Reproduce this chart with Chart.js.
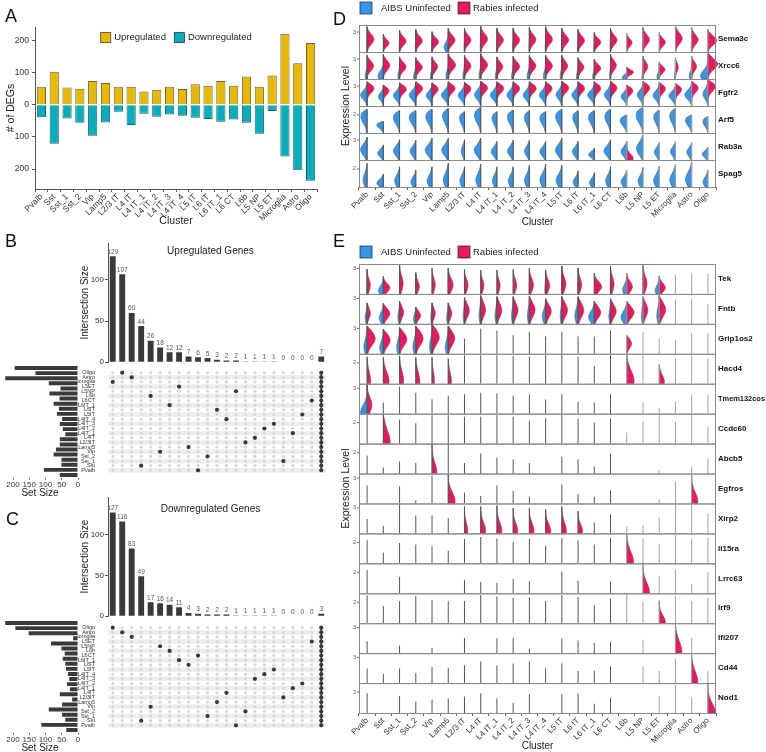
<!DOCTYPE html>
<html lang="en">
<head>
<meta charset="UTF-8">
<title>DEG summary</title>
<script src="https://cdn.jsdelivr.net/npm/chart.js"></script>
<style>
  body { margin: 0; background: #fff; }
  #fig { position: relative; width: 766px; height: 752px; overflow: hidden; background: #fff;
         font-family: "Liberation Sans", Arial, sans-serif; }
  #fig canvas { position: absolute; }
  .panel { position: absolute; font-size: 18px; line-height: 18px; color: #111; }
</style>
</head>
<body>
<div id="fig">
  <canvas id="chartA" width="330" height="232" style="left:0;top:0"></canvas>
  <canvas id="setUp" width="80" height="137" style="left:0;top:362px"></canvas>
  <canvas id="interUp" width="253" height="132" style="left:77px;top:236px"></canvas>
  <canvas id="matrixUp" width="253" height="119" style="left:77px;top:362px"></canvas>
  <canvas id="setDown" width="80" height="137" style="left:0;top:617px"></canvas>
  <canvas id="interDown" width="253" height="132" style="left:77px;top:490px"></canvas>
  <canvas id="matrixDown" width="253" height="119" style="left:77px;top:617px"></canvas>
  <canvas id="chartD" width="436" height="232" style="left:330px;top:0"></canvas>
  <canvas id="chartE" width="436" height="524" style="left:330px;top:228px"></canvas>
  <div class="panel" style="left:5px;top:7px">A</div>
  <div class="panel" style="left:5px;top:232px">B</div>
  <div class="panel" style="left:6px;top:510px">C</div>
  <div class="panel" style="left:333px;top:10px">D</div>
  <div class="panel" style="left:333px;top:232px">E</div>
</div>
<script>
// ---- data ----
var clusters = ['Pvalb','Sst','Sst_1','Sst_2','Vip','Lamp5','L2/3 IT','L4 IT','L4 IT_1','L4 IT_2','L4 IT_3','L4 IT_4',
                'L5 IT','L6 IT','L6 IT_1','L6 CT','L6b','L5 NP','L5 ET','Microglia','Astro','Oligo'];
var upsetRows = ['Pvalb','Sst','Sst_1','Sst_2','Vip','Lamp5','L2/3IT','L4IT','L4IT_1','L4IT_2','L4IT_3','L4IT_4',
                 'L5IT','L6IT','L6IT_1','L6CT','L6b','L5NP','L5ET','Microglia','Astro','Oligo'];

var upCounts   = [56,103,54,50,74,68,56,56,41,47,56,49,64,59,74,59,88,56,91,221,129,192];
var downCounts = [39,121,43,56,96,55,22,63,28,37,30,34,40,44,53,46,56,90,19,161,204,236];
var degTicks   = [-200,-100,0,100,200];

var upSetSize   = [56,105,51,51,75,68,56,56,39,47,56,49,65,59,75,57,88,54,90,224,131,195];
var downSetSize = [36,113,39,49,90,49,18,56,25,34,27,31,37,39,47,41,51,83,15,152,193,224];
var setSizeTicks = [0,50,100,150,200];

// intersection sizes (last column = all sets) and the single cluster of each other column
var upInter    = [129,107,60,44,26,18,12,12,7,6,5,3,2,2,1,1,1,1,0,0,0,0,7];
var upInterSet = [19,21,20,1,16,4,14,18,5,0,3,13,11,17,6,7,9,10,2,8,12,15];
var downInter    = [127,116,83,49,17,16,14,11,4,3,2,2,2,1,1,1,1,1,0,0,0,0,3];
var downInterSet = [21,20,19,1,4,17,16,14,13,15,2,5,7,0,3,10,11,12,6,8,9,18];

// violin panel D: max expression (fraction of row), half widths, density modes
var dGenes = ['Sema3c','Xrcc6','Fgfr2','Arf5','Rab3a','Spag5'];
var dTicks = ['3','3','3','2','3','2'];
var dHi = [
  [0.94,0.66,0.8,0.83,0.75,0.88,0.88,0.96,0.88,0.88,0.92,0.94,0.88,0.84,0.72,0.88,0.69,0.91,0.72,1.0,0.91,0.85],
  [0.88,0.91,0.82,0.79,0.82,0.94,0.88,0.94,0.82,0.84,0.88,0.88,0.88,0.79,0.72,0.91,0.45,0.84,0.63,0.79,0.84,1.0],
  [0.9,0.78,0.86,0.9,0.86,0.9,0.88,0.92,0.9,0.9,0.9,0.9,0.92,0.9,0.9,0.92,0.78,0.92,0.88,0.84,0.92,0.99],
  [0.88,0.43,0.83,0.83,0.88,0.91,0.79,0.95,0.79,0.85,0.83,0.79,0.88,0.83,0.83,0.88,0.67,0.95,0.85,0.91,0.67,0.61],
  [0.85,0.56,0.75,0.73,0.81,0.81,0.75,0.81,0.69,0.73,0.73,0.69,0.81,0.69,0.44,0.75,0.69,0.94,0.65,0.69,0.65,0.48],
  [0.88,0.48,0.75,0.63,0.75,0.88,0.75,0.85,0.75,0.75,0.81,0.85,0.81,0.6,0.53,0.75,0.63,0.73,0.78,0.85,0.94,0.63]
];
var dRed = [
  [0.42,0.35,0.4,0.4,0.4,0.42,0.4,0.42,0.4,0.4,0.4,0.42,0.42,0.4,0.4,0.4,0.33,0.4,0.38,0.42,0.4,0.55],
  [0.4,0.4,0.4,0.4,0.35,0.45,0.4,0.42,0.36,0.4,0.4,0.42,0.36,0.36,0.4,0.36,0.42,0.3,0.36,0.18,0.3,0.6],
  [0.42,0.35,0.42,0.42,0.38,0.42,0.4,0.42,0.42,0.4,0.42,0.4,0.42,0.4,0.4,0.4,0.38,0.42,0.38,0.38,0.4,0.45],
  [0,0,0,0,0,0,0,0,0,0,0,0,0,0,0,0,0,0,0,0,0,0],
  [0,0,0,0,0,0,0,0,0,0,0,0,0,0,0,0,0.4,0,0,0,0,0],
  [0,0,0,0,0,0,0,0,0,0,0,0,0,0,0,0,0,0,0,0,0,0]
];
var dBlue = [
  [0.03,0,0.03,0.03,0.03,0.25,0.03,0.03,0.03,0.03,0.03,0.03,0.03,0.03,0.03,0.03,0,0.03,0,0,0.03,0],
  [0.12,0.33,0.1,0.14,0.1,0.14,0.1,0.1,0.1,0.1,0.14,0.14,0.1,0.1,0.1,0.06,0.28,0.06,0.14,0.06,0.14,0.45],
  [0.4,0.3,0.38,0.4,0.35,0.42,0.38,0.38,0.4,0.38,0.38,0.38,0.35,0.38,0.4,0.38,0.35,0.35,0.38,0.4,0.42,0.3],
  [0.38,0.4,0.38,0.4,0.38,0.35,0.3,0.38,0.3,0.35,0.3,0.35,0.38,0.33,0.35,0.35,0.4,0.42,0.33,0.35,0.38,0.3],
  [0.4,0.35,0.38,0.35,0.42,0.4,0.2,0.4,0.35,0.35,0.3,0.35,0.4,0.35,0.35,0.4,0.35,0.4,0.3,0.3,0.3,0.35],
  [0.25,0.4,0.3,0.3,0.3,0.3,0.28,0.3,0.28,0.3,0.3,0.35,0.35,0.3,0.3,0.3,0.35,0.3,0.35,0.35,0.38,0.3]
];
var dRedPeak  = [0.5,0.55,0.72,0.5,0.08,0.5];
var dBluePeak = [0.2,0.12,0.45,0.68,0.45,0.3];
var dSpread   = [0.2,0.2,0.18,0.28,0.24,0.28];

// violin panel E
var eGenes = ['Tek','Fntb','Grip1os2','Hacd4','Tmem132cos','Ccdc60','Abcb5','Egfros','Xirp2','Il15ra','Lrrc63','Irf9','Ifi207','Cd44','Nod1'];
var eTicks = ['3','3','3','2','3','2','2','3','3','2','2','2','3','3','2'];
var eHi = [
  [0.82,0.58,1.0,0.71,0.86,0.86,0.82,0.8,0.8,0.82,0.86,0.8,0.93,0.86,0.69,0.93,0.69,0.97,0.6,0.65,0.67,0.67],
  [0.7,0.68,0.76,0.56,0.7,0.7,0.88,0.95,0.91,0.91,0.93,0.84,0.91,0.91,0.76,0.84,0.76,0.91,0.95,0.82,0.84,0.65],
  [0.93,0.82,0.88,0.93,1.0,0.93,0.51,0.84,0.77,0.62,0.73,0.58,0.73,0.58,0.58,0.77,0.62,0.73,0.51,0.47,0.69,0.69],
  [0.9,0.88,0.93,0.88,0.88,0.84,0.95,0.95,0.95,0.93,0.9,0.95,0.98,0.9,0.59,0.95,0.98,0.95,0.64,0.84,0.93,0.84],
  [0.98,0.37,0.9,0.7,0.48,0.6,0.65,0.7,0.68,0.6,0.65,0.48,0.65,0.4,0.37,0.65,0,0.35,0.18,0.4,0.63,0.63],
  [0.95,0.98,0.8,0.68,0.95,0.95,0.9,0.9,0.95,0.9,0.77,0.85,0.97,0.83,0.7,0.83,0.37,0.75,0.95,0.72,0.95,0.55],
  [0.6,0.2,0.4,0.35,1.0,1.0,0.35,0.67,0.53,0.47,0.35,0,0.56,0.47,0.23,0.67,0,0,0.12,0,0.23,0.5],
  [0.6,0,0.57,0.11,0.93,0.98,0.36,0.25,0.6,0.43,0.23,0,0.63,0.32,0.23,0.43,0,0,0.14,0.74,0.95,0],
  [0.48,0.25,0.97,0.6,0.6,0.52,0.9,0.9,0.93,0.85,0.85,0.8,0.9,0.74,0.36,0.63,0.23,0.28,0.53,1.0,1.0,0.66],
  [0.77,0.36,0.68,0.63,0.57,0.42,0.82,0.88,0.83,0.72,0.83,0.59,0.85,0.77,0.63,0.85,0.97,0.83,0.65,0.93,0.83,0.85],
  [0.77,0,0.55,0,0,0,0.45,0.38,0.34,0.48,0.4,0,0.72,0.42,0,0.4,0,1.0,0.59,0.8,0.31,0.7],
  [0.93,0.57,0.74,0.91,0.77,0.74,0.74,0.94,0.89,0.85,0.87,0.74,0.94,0.87,0.6,0.83,1.0,0.72,0.75,0.91,0.74,0.85],
  [0.4,0,0.25,0,0.17,0,0.51,0,0.49,0.51,0.15,0,0.49,0.42,0.34,0.38,0,0.45,0,1.0,0.51,0],
  [0.49,0.31,0.49,0.34,0.53,0.51,0.6,0.72,0.59,0.65,0.72,0.51,0.66,0.4,0.42,0.55,0,0.55,0.4,0.83,0.95,0.4],
  [0.66,0,0.57,0.38,0.45,0.49,0.55,0.66,0.49,0.34,0.63,0,0.63,0.65,0.31,0.51,0,0,0.57,0.93,0.51,1.0]
];
var eRed = [
  [0.2,0.4,0.22,0.22,0.2,0.3,0.22,0.2,0.2,0.22,0.25,0.25,0.25,0.22,0.45,0.22,0.35,0.25,0.38,0,0,0],
  [0.2,0.4,0.25,0.3,0.2,0.22,0.3,0.3,0.3,0.3,0.35,0.35,0.35,0.35,0.4,0.35,0.45,0.3,0.4,0,0,0],
  [0.5,0.42,0.45,0.45,0.45,0.4,0,0,0,0,0,0,0,0,0,0,0.3,0,0,0,0,0],
  [0.22,0.35,0.25,0.25,0.15,0.2,0,0,0,0,0,0,0,0,0,0,0.45,0,0.32,0,0,0],
  [0.3,0,0,0,0,0,0,0,0,0,0,0,0,0,0,0,0,0,0,0,0,0],
  [0,0.42,0,0,0,0,0,0,0,0,0,0,0,0,0,0,0,0,0,0,0,0],
  [0,0,0,0,0.3,0,0,0,0,0,0,0,0,0,0,0,0,0,0,0,0,0],
  [0,0,0,0,0,0.42,0,0,0,0,0,0,0,0,0,0,0,0,0,0,0.38,0],
  [0,0,0,0,0,0,0.2,0.3,0.3,0.28,0.28,0.32,0.28,0.28,0,0,0,0,0,0,0,0],
  [0,0,0,0,0,0,0,0,0,0,0,0,0,0,0,0,0.42,0,0,0,0,0],
  [0,0,0,0,0,0,0,0,0,0,0,0,0,0,0,0,0,0.4,0,0,0,0],
  [0,0,0,0,0,0,0,0,0,0,0,0,0,0,0,0,0,0,0.38,0,0,0],
  [0,0,0,0,0,0,0,0,0,0,0,0,0,0,0,0,0,0,0,0.4,0,0],
  [0,0,0,0,0,0,0,0,0,0,0,0,0,0,0,0,0,0,0,0,0.38,0],
  [0,0,0,0,0,0,0,0,0,0,0,0,0,0,0,0,0,0,0,0,0,0.45]
];
var eBlue = [
  [0.02,0.3,0,0.02,0,0.02,0,0,0,0,0.02,0.05,0.02,0.02,0,0.02,0.25,0.02,0.25,0,0,0],
  [0.12,0.25,0.1,0.15,0.08,0.1,0.08,0.1,0.12,0.1,0.12,0.2,0.1,0.2,0.35,0.1,0.35,0.1,0.15,0,0,0],
  [0.2,0.22,0.18,0.18,0.15,0.18,0,0,0,0,0,0,0,0,0,0,0,0,0,0,0,0],
  [0,0,0,0,0,0,0,0,0,0,0,0,0,0,0,0,0,0,0,0,0,0],
  [0.4,0,0,0,0,0,0,0,0,0,0,0,0,0,0,0,0,0,0,0,0,0],
  [0,0,0,0,0,0,0,0,0,0,0,0,0,0,0,0,0,0,0,0,0,0],
  [0,0,0,0,0,0,0,0,0,0,0,0,0,0,0,0,0,0,0,0,0,0],
  [0,0,0,0,0,0,0,0,0,0,0,0,0,0,0,0,0,0,0,0,0,0],
  [0,0,0,0,0,0,0,0,0,0,0,0,0,0,0,0,0,0,0,0,0,0],
  [0,0,0,0,0,0,0,0,0,0,0,0,0,0,0,0,0,0,0,0,0,0],
  [0,0,0,0,0,0,0,0,0,0,0,0,0,0,0,0,0,0,0,0,0,0],
  [0,0,0,0,0,0,0,0,0,0,0,0,0,0,0,0,0,0,0,0,0,0],
  [0,0,0,0,0,0,0,0,0,0,0,0,0,0,0,0,0,0,0,0,0,0],
  [0,0,0,0,0,0,0,0,0,0,0,0,0,0,0,0,0,0,0,0,0,0],
  [0,0,0,0,0,0,0,0,0,0,0,0,0,0,0,0,0,0,0,0,0,0]
];
var eRedPeak  = [0.35,0.5,0.55,0.1,0.3,0.05,0.05,0.08,0.1,0.05,0.05,0.05,0.05,0.05,0.02];
var eBluePeak = [0.2,0.3,0.25,0.1,0.05,0,0,0,0,0,0,0,0,0,0];
var eSpread   = [0.25,0.25,0.25,0.35,0.25,0.4,0.3,0.3,0.3,0.35,0.3,0.3,0.35,0.35,0.3];

// ---- shared setup ----
Chart.defaults.font.family = '"Liberation Sans", Arial, sans-serif';
Chart.defaults.color = '#333';
Chart.defaults.animation = false;

var FONT = '"Liberation Sans", Arial, sans-serif';
var BLUE = '#3196EE', RED = '#F0155F', DARK = '#3a3a3a';

function fixWidth(w) { return function (s) { s.width = w; }; }
function fixHeight(h) { return function (s) { s.height = h; }; }
function fixTicks(values) { return function (s) { s.ticks = values.map(v => ({ value: v })); }; }

// legend drawn inside the top of the plot area
var insideLegend = {
    id: 'insideLegend',
    afterDraw(chart) {
        var ctx = chart.ctx, a = chart.chartArea, sets = chart.data.datasets;
        ctx.save();
        ctx.font = '9.5px ' + FONT;
        var widths = sets.map(d => 10 + 4 + ctx.measureText(d.label).width);
        var total = widths.reduce((s, w) => s + w, 0) + 8 * (sets.length - 1);
        var x = (a.left + a.right) / 2 - total / 2, y = a.top + 10;
        sets.forEach(function (d, i) {
            ctx.fillStyle = d.backgroundColor;
            ctx.fillRect(x, y - 5, 10, 10);
            ctx.strokeStyle = d.borderColor;
            ctx.lineWidth = 1;
            ctx.strokeRect(x + 0.5, y - 4.5, 10, 10);
            ctx.fillStyle = '#222';
            ctx.textBaseline = 'middle';
            ctx.fillText(d.label, x + 14, y + 0.5);
            x += widths[i] + 8;
        });
        ctx.restore();
    }
};

// ---- A: up / down DEG counts ----
new Chart(document.getElementById('chartA'), {
    type: 'bar',
    data: {
        labels: clusters,
        datasets: [
            { label: 'Upregulated', data: upCounts, backgroundColor: '#E7B800', borderColor: '#6e6640', borderWidth: 1 },
            { label: 'Downregulated', data: downCounts.map(v => -v), backgroundColor: '#00AFBB', borderColor: '#2d5e62', borderWidth: 1 }
        ]
    },
    options: {
        responsive: false,
        layout: { padding: { left: 0, right: 13, top: 27, bottom: 0 } },
        datasets: { bar: { barPercentage: 0.72, categoryPercentage: 1 } },
        scales: {
            x: {
                stacked: true,
                grid: { drawOnChartArea: false, tickLength: 3, color: '#555' },
                border: { color: '#555' },
                ticks: { maxRotation: 45, minRotation: 45, autoSkip: false, font: { size: 8.5 }, padding: 0 },
                title: { display: true, text: 'Cluster', font: { size: 10.5 }, color: '#222', padding: { top: 0, bottom: 5 } },
                afterFit: fixHeight(43)
            },
            y: {
                stacked: true, min: -262, max: 242,
                afterBuildTicks: fixTicks(degTicks),
                ticks: { callback: v => Math.abs(v), font: { size: 8.5 } },
                grid: { drawOnChartArea: false, tickLength: 3, color: '#555' },
                border: { color: '#555' },
                title: { display: true, text: '# of DEGs', font: { size: 10.5 }, color: '#222', padding: { top: 5, bottom: 0 } },
                afterFit: fixWidth(35)
            }
        },
        plugins: { legend: { display: false }, tooltip: { enabled: false } }
    },
    plugins: [insideLegend]
});

// ---- B / C: UpSet plots ----
var barLabels = {
    id: 'barLabels',
    afterDatasetsDraw(chart, args, opts) {
        var ctx = chart.ctx, meta = chart.getDatasetMeta(0), a = chart.chartArea;
        ctx.save();
        ctx.font = '6.5px ' + FONT;
        ctx.fillStyle = '#555';
        ctx.textAlign = 'center';
        ctx.textBaseline = 'bottom';
        meta.data.forEach(function (bar, i) {
            ctx.fillText(chart.data.datasets[0].data[i], bar.x, bar.y - 1);
        });
        ctx.font = '10px ' + FONT;
        ctx.fillStyle = '#222';
        ctx.textBaseline = 'middle';
        ctx.fillText(opts.title, a.left + (a.right - a.left) * 0.47, a.top + opts.titleY);
        ctx.restore();
    }
};

function interChart(id, counts, ymax, title, titleY) {
    new Chart(document.getElementById(id), {
        type: 'bar',
        data: { labels: counts.map((c, i) => i), datasets: [{ data: counts, backgroundColor: DARK, barPercentage: 0.62, categoryPercentage: 1 }] },
        options: {
            responsive: false,
            layout: { padding: { left: 0, right: 4, top: 7, bottom: 4 } },
            scales: {
                x: { display: false },
                y: {
                    min: 0, max: ymax,
                    afterBuildTicks: fixTicks([0, 50, 100]),
                    ticks: { font: { size: 8 }, padding: 1 },
                    grid: { drawOnChartArea: false, tickLength: 3, color: '#555' },
                    border: { color: '#555' },
                    title: { display: true, text: 'Intersection Size', font: { size: 10 }, color: '#222', padding: { top: 2, bottom: 0 } },
                    afterFit: fixWidth(31)
                }
            },
            plugins: { legend: { display: false }, tooltip: { enabled: false }, barLabels: { title: title, titleY: titleY } }
        },
        plugins: [barLabels]
    });
}

var stripes = {
    id: 'stripes',
    beforeDatasetsDraw(chart) {
        var ctx = chart.ctx, a = chart.chartArea, ys = chart.scales.y;
        ctx.save();
        ctx.fillStyle = '#eeeeee';
        for (var r = 0; r < clusters.length; r++) {
            if ((clusters.length - 1 - r) % 2 === 1) {
                var y0 = ys.getPixelForValue(r + 0.5), y1 = ys.getPixelForValue(r - 0.5);
                ctx.fillRect(a.left, y0, a.right - a.left, y1 - y0);
            }
        }
        ctx.restore();
    }
};

function matrixChart(id, interSet, nCols) {
    var bg = [], act = [], all = [];
    for (var c = 0; c < nCols; c++)
        for (var r = 0; r < clusters.length; r++) bg.push({ x: c, y: r });
    interSet.forEach(function (r, c) { act.push({ x: c, y: r }); });
    for (var r2 = 0; r2 < clusters.length; r2++) all.push({ x: nCols - 1, y: r2 });
    new Chart(document.getElementById(id), {
        type: 'scatter',
        data: {
            // first dataset is painted on top
            datasets: [
                { data: act, pointRadius: 2.1, pointBackgroundColor: DARK, pointBorderWidth: 0 },
                { data: all, showLine: true, borderColor: DARK, borderWidth: 1.5, pointRadius: 2.1, pointBackgroundColor: DARK, pointBorderWidth: 0 },
                { data: bg, pointRadius: 1.6, pointBackgroundColor: '#d9d9d9', pointBorderWidth: 0 }
            ]
        },
        options: {
            responsive: false,
            layout: { padding: { left: 0, right: 4, top: 3.5, bottom: 3.5 } },
            scales: {
                x: { type: 'linear', min: -0.5, max: nCols - 0.5, display: false },
                y: {
                    type: 'linear', min: -0.5, max: clusters.length - 0.5,
                    afterBuildTicks: fixTicks(clusters.map((c, i) => i)),
                    ticks: { autoSkip: false, callback: v => upsetRows[v], font: { size: 5.5 }, padding: 5, color: '#333' },
                    grid: { display: false },
                    border: { display: false },
                    afterFit: fixWidth(31)
                }
            },
            plugins: { legend: { display: false }, tooltip: { enabled: false } }
        },
        plugins: [stripes]
    });
}

function setSizeChart(id, sizes) {
    new Chart(document.getElementById(id), {
        type: 'bar',
        data: { labels: clusters, datasets: [{ data: sizes, backgroundColor: DARK, barPercentage: 0.78, categoryPercentage: 1 }] },
        options: {
            indexAxis: 'y',
            responsive: false,
            layout: { padding: { left: 2, right: 2, top: 3.5, bottom: 0 } },
            scales: {
                y: { reverse: true, display: false },
                x: {
                    reverse: true, min: 0, max: 234,
                    afterBuildTicks: fixTicks(setSizeTicks),
                    ticks: { autoSkip: false, font: { size: 8 }, padding: 0, maxRotation: 0 },
                    grid: { drawOnChartArea: false, tickLength: 2, color: '#555' },
                    border: { display: false },
                    title: { display: true, text: 'Set Size', font: { size: 10 }, color: '#222', padding: 0 },
                    afterFit: fixHeight(21.5)
                }
            },
            plugins: { legend: { display: false }, tooltip: { enabled: false } }
        }
    });
}

interChart('interUp', upInter, 145, 'Upregulated Genes', 8);
matrixChart('matrixUp', upInterSet, upInter.length);
setSizeChart('setUp', upSetSize);
interChart('interDown', downInter, 146, 'Downregulated Genes', 12);
matrixChart('matrixDown', downInterSet, downInter.length);
setSizeChart('setDown', downSetSize);

// ---- D / E: split violins ----
function halfViolin(ctx, xc, yb, h, w, peak, sd, color) {
    ctx.beginPath();
    ctx.moveTo(xc, yb);
    for (var i = 0; i <= 40; i++) {
        var t = i / 40;
        var f = Math.exp(-0.5 * Math.pow((t - peak) / sd, 2)) * Math.sqrt(Math.min(1, (1 - t) / 0.15));
        ctx.lineTo(xc + w * f, yb - t * h);
    }
    ctx.lineTo(xc, yb - h);
    ctx.closePath();
    ctx.fillStyle = color;
    ctx.fill();
    ctx.lineWidth = 0.6;
    ctx.strokeStyle = '#555';
    ctx.stroke();
}

var violins = {
    id: 'violins',
    afterDraw(chart, args, opts) {
        var p = opts.panel, ctx = chart.ctx, xs = chart.scales.x, ys = chart.scales.y, a = chart.chartArea;
        var n = p.genes.length, step = xs.getPixelForValue(1) - xs.getPixelForValue(0);
        ctx.save();
        for (var g = 0; g < n; g++) {
            var yb = ys.getPixelForValue(n - 1 - g), yt = ys.getPixelForValue(n - g), rh = yb - yt;
            for (var k = 0; k < clusters.length; k++) {
                var xc = xs.getPixelForValue(k), h = p.hi[g][k] * rh;
                if (h <= 0) continue;
                if (p.blue[g][k] > 0) halfViolin(ctx, xc, yb, h, -p.blue[g][k] * step, p.bluePeak[g], p.spread[g], BLUE);
                if (p.red[g][k] > 0) halfViolin(ctx, xc, yb, h, p.red[g][k] * step, p.redPeak[g], p.spread[g], RED);
                ctx.beginPath();
                ctx.moveTo(xc, yb);
                ctx.lineTo(xc, yb - h);
                ctx.lineWidth = 1;
                ctx.strokeStyle = k >= 16 ? '#a0a0a0' : '#555';
                ctx.stroke();
            }
            ctx.lineWidth = 1;
            ctx.strokeStyle = '#8a8a8a';
            ctx.strokeRect(a.left + 0.5, yt + 0.5, a.right - a.left - 1, rh);
            // row tick
            var ty = yb - p.tickFrac[p.ticks[g]] * rh;
            ctx.beginPath();
            ctx.moveTo(a.left - 2, ty);
            ctx.lineTo(a.left, ty);
            ctx.strokeStyle = '#666';
            ctx.stroke();
            ctx.font = '5.5px ' + FONT;
            ctx.fillStyle = '#555';
            ctx.textAlign = 'right';
            ctx.textBaseline = 'middle';
            ctx.fillText(p.ticks[g], a.left - 3, ty);
            // gene strip label, squeezed to fit the canvas edge
            ctx.font = 'bold 8px ' + FONT;
            ctx.fillStyle = '#111';
            ctx.textAlign = 'left';
            ctx.fillText(p.genes[g], a.right + 2, (yt + yb) / 2, chart.width - a.right - 3);
        }
        // legend
        var ly = p.legendY;
        ctx.font = '9.5px ' + FONT;
        ctx.textAlign = 'left';
        ctx.textBaseline = 'middle';
        ctx.lineWidth = 0.8;
        ctx.strokeStyle = '#333';
        ctx.fillStyle = BLUE;
        ctx.fillRect(30, ly - 6, 12, 12); ctx.strokeRect(30, ly - 6, 12, 12);
        ctx.fillStyle = '#222';
        ctx.fillText('AIBS Uninfected', 51, ly);
        ctx.fillStyle = RED;
        ctx.fillRect(128, ly - 6, 12, 12); ctx.strokeRect(128, ly - 6, 12, 12);
        ctx.fillStyle = '#222';
        ctx.fillText('Rabies infected', 143, ly);
        ctx.restore();
    }
};

function violinChart(id, panel, top, xh, titlePad) {
    new Chart(document.getElementById(id), {
        type: 'bar',
        data: { labels: clusters, datasets: [] },
        options: {
            responsive: false,
            layout: { padding: { left: 0, right: 50, top: top, bottom: 0 } },
            scales: {
                x: {
                    grid: { drawOnChartArea: false, tickLength: 3, color: '#666' },
                    border: { display: false },
                    ticks: { maxRotation: 45, minRotation: 45, autoSkip: false, font: { size: 8 }, padding: 0, color: '#333' },
                    title: { display: true, text: 'Cluster', font: { size: 10 }, color: '#222', padding: { top: 0, bottom: titlePad } },
                    afterFit: fixHeight(xh)
                },
                y: {
                    min: 0, max: panel.genes.length,
                    ticks: { display: false },
                    grid: { display: false },
                    border: { display: false },
                    title: { display: true, text: 'Expression Level', font: { size: 10.5 }, color: '#222', padding: { top: 10, bottom: 0 } },
                    afterFit: fixWidth(29)
                }
            },
            plugins: { legend: { display: false }, tooltip: { enabled: false }, violins: { panel: panel } }
        },
        plugins: [violins]
    });
}

violinChart('chartD', {
    genes: dGenes, ticks: dTicks, hi: dHi, red: dRed, blue: dBlue,
    redPeak: dRedPeak, bluePeak: dBluePeak, spread: dSpread,
    tickFrac: { '3': 0.74, '2': 0.67 }, legendY: 8
}, 25, 45, 4);

violinChart('chartE', {
    genes: eGenes, ticks: eTicks, hi: eHi, red: eRed, blue: eBlue,
    redPeak: eRedPeak, bluePeak: eBluePeak, spread: eSpread,
    tickFrac: { '3': 0.85, '2': 0.7 }, legendY: 24
}, 36, 39, 0);
</script>
</body>
</html>
